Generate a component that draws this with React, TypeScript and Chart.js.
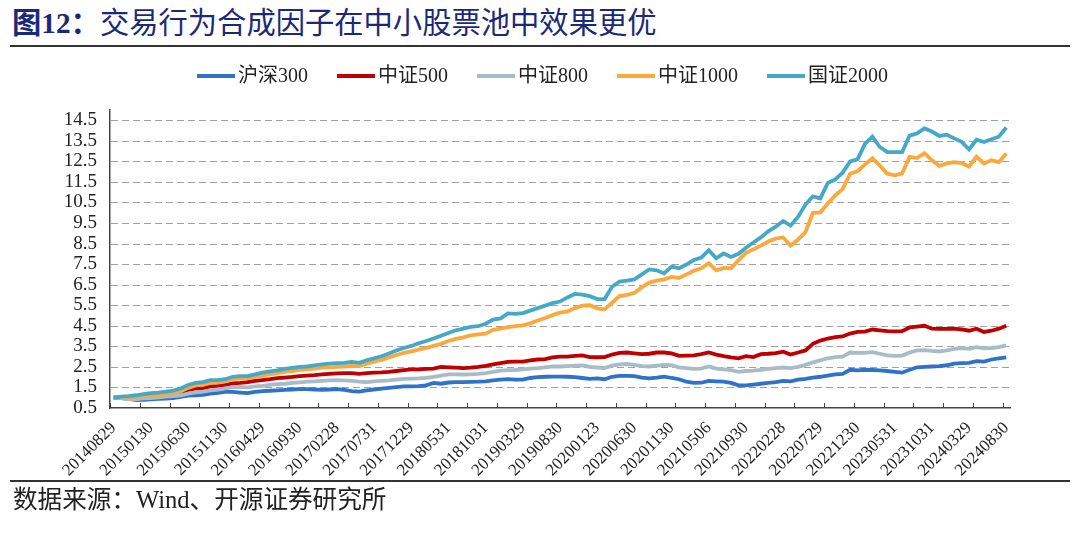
import React, { useEffect, useRef } from 'react';
import { Chart, registerables } from 'chart.js';

Chart.register(...registerables);

// ---------- data ----------
const xTickLabels = [
  '20140829', '20150130', '20150630', '20151130', '20160429', '20160930', '20170228',
  '20170731', '20171229', '20180531', '20181031', '20190329', '20190830', '20200123',
  '20200630', '20201130', '20210506', '20210930', '20220228', '20220729', '20221230',
  '20230531', '20231031', '20240329', '20240830',
];

const yTickValues = [0.5, 1.5, 2.5, 3.5, 4.5, 5.5, 6.5, 7.5, 8.5, 9.5, 10.5, 11.5, 12.5, 13.5, 14.5];

const seriesNames = ['沪深300', '中证500', '中证800', '中证1000', '国证2000'];
const seriesColors = ['#2F72C9', '#C00000', '#A7BBC9', '#FBA83C', '#44A9C8'];

const hs300 = [
  1.0, 0.98, 0.95, 0.88, 0.9, 0.92, 0.94, 0.96, 0.98, 1.04, 1.1, 1.12, 1.14, 1.2, 1.24, 1.28, 1.28, 1.25, 1.22, 1.28,
  1.32, 1.34, 1.36, 1.38, 1.4, 1.42, 1.42, 1.4, 1.38, 1.4, 1.42, 1.38, 1.32, 1.3,
  1.36, 1.4, 1.44, 1.48, 1.52, 1.55, 1.55, 1.56, 1.6, 1.72, 1.68, 1.74, 1.76, 1.76, 1.77, 1.78, 1.8, 1.84, 1.88, 1.9,
  1.88, 1.88, 1.96, 2.0, 2.02, 2.03, 2.03, 2.02, 2.0, 1.96, 1.92, 1.94, 1.9, 2.02,
  2.06, 2.06, 2.05, 1.98, 1.94, 1.98, 2.03, 1.96, 1.9, 1.78, 1.72, 1.73, 1.82, 1.8, 1.78, 1.72, 1.6, 1.6, 1.64, 1.68,
  1.72, 1.76, 1.82, 1.8, 1.88, 1.92, 1.98, 2.02, 2.08, 2.14, 2.16, 2.36, 2.33,
  2.36, 2.35, 2.33, 2.3, 2.26, 2.22, 2.36, 2.48, 2.5, 2.52, 2.54, 2.58, 2.66, 2.68, 2.7, 2.78, 2.76, 2.86, 2.92, 2.96,
];

const csi500 = [
  1.0, 1.0, 0.98, 1.02, 1.06, 1.08, 1.1, 1.14, 1.18, 1.25, 1.38, 1.44, 1.46, 1.55, 1.58, 1.62, 1.7, 1.72, 1.76, 1.82,
  1.86, 1.9, 1.95, 1.98, 2.01, 2.05, 2.08, 2.1, 2.14, 2.16, 2.18, 2.2, 2.2, 2.16,
  2.2, 2.22, 2.23, 2.26, 2.3, 2.34, 2.38, 2.38, 2.4, 2.42, 2.5, 2.48, 2.46, 2.44, 2.46, 2.5, 2.55, 2.62, 2.68, 2.74,
  2.76, 2.76, 2.82, 2.86, 2.88, 2.96, 3.0, 3.0, 3.04, 3.06, 2.98, 2.97, 2.98, 3.1,
  3.18, 3.2, 3.16, 3.12, 3.14, 3.2, 3.2, 3.16, 3.04, 3.05, 3.06, 3.12, 3.2, 3.1, 3.02, 2.96, 2.92, 3.02, 2.98, 3.12,
  3.14, 3.17, 3.24, 3.1, 3.2, 3.3, 3.62, 3.78, 3.88, 3.95, 3.98, 4.12, 4.2,
  4.22, 4.32, 4.28, 4.24, 4.23, 4.24, 4.42, 4.46, 4.5, 4.36, 4.35, 4.35, 4.36, 4.32, 4.26, 4.36, 4.2, 4.26, 4.36, 4.5,
];

const csi800 = [
  1.0, 0.98, 0.93, 0.92, 0.97, 0.98, 1.02, 1.06, 1.08, 1.12, 1.2, 1.26, 1.3, 1.36, 1.4, 1.46, 1.52, 1.52, 1.5, 1.55,
  1.58, 1.62, 1.66, 1.68, 1.72, 1.75, 1.78, 1.8, 1.82, 1.84, 1.85, 1.84, 1.82, 1.78,
  1.76, 1.8, 1.82, 1.84, 1.88, 1.92, 1.93, 1.94, 1.97, 2.02, 2.08, 2.14, 2.14, 2.13, 2.14, 2.16, 2.2, 2.26, 2.32, 2.34,
  2.35, 2.38, 2.42, 2.44, 2.48, 2.52, 2.52, 2.54, 2.56, 2.57, 2.5, 2.47, 2.44, 2.56,
  2.62, 2.64, 2.6, 2.54, 2.52, 2.56, 2.6, 2.58, 2.48, 2.44, 2.4, 2.42, 2.52, 2.42, 2.38, 2.34, 2.26, 2.3, 2.32, 2.36,
  2.4, 2.44, 2.47, 2.44, 2.5, 2.6, 2.72, 2.82, 2.92, 2.98, 3.0, 3.2, 3.18,
  3.18, 3.22, 3.14, 3.06, 3.04, 3.05, 3.2, 3.3, 3.32, 3.28, 3.25, 3.3, 3.38, 3.42, 3.38, 3.46, 3.4, 3.42, 3.46, 3.55,
];

const csi1000 = [
  1.0, 1.02, 1.03, 1.06, 1.08, 1.11, 1.14, 1.16, 1.22, 1.3, 1.48, 1.6, 1.62, 1.72, 1.74, 1.8, 1.9, 1.93, 1.95, 2.02,
  2.08, 2.14, 2.2, 2.26, 2.3, 2.35, 2.38, 2.42, 2.46, 2.48, 2.5, 2.52, 2.55, 2.54,
  2.66, 2.76, 2.84, 2.96, 3.08, 3.18, 3.26, 3.34, 3.42, 3.52, 3.62, 3.76, 3.86, 3.94, 4.04, 4.08, 4.12, 4.3, 4.36, 4.44,
  4.48, 4.52, 4.62, 4.76, 4.88, 5.02, 5.14, 5.2, 5.36, 5.48, 5.5, 5.35, 5.3, 5.62,
  5.95, 6.0, 6.1, 6.38, 6.6, 6.7, 6.76, 6.88, 6.82, 7.0, 7.18, 7.3, 7.55, 7.2, 7.32, 7.3, 7.7, 8.05, 8.22, 8.4,
  8.6, 8.74, 8.8, 8.4, 8.7, 9.05, 10.0, 10.02, 10.45, 10.85, 11.15, 11.9, 12.02,
  12.35, 12.65, 12.3, 11.9, 11.82, 11.92, 12.72, 12.66, 12.9, 12.55, 12.28, 12.4, 12.46, 12.42, 12.25, 12.72, 12.4, 12.55, 12.46, 12.88,
];

const gz2000 = [
  1.0, 1.05, 1.08, 1.12, 1.17, 1.22, 1.25, 1.3, 1.35, 1.45, 1.62, 1.72, 1.76, 1.86, 1.86, 1.9, 2.02, 2.05, 2.05, 2.14,
  2.22, 2.28, 2.33, 2.4, 2.45, 2.5, 2.52, 2.57, 2.62, 2.66, 2.68, 2.7, 2.74, 2.7,
  2.82, 2.92, 3.02, 3.15, 3.3, 3.42, 3.52, 3.65, 3.76, 3.88, 4.02, 4.15, 4.28, 4.36, 4.45, 4.48, 4.6, 4.8, 4.86, 5.1,
  5.08, 5.12, 5.24, 5.36, 5.48, 5.6, 5.68, 5.88, 6.05, 6.02, 5.94, 5.8, 5.8, 6.4,
  6.65, 6.7, 6.76, 7.0, 7.24, 7.2, 7.05, 7.38, 7.3, 7.48, 7.7, 7.82, 8.18, 7.78, 8.02, 7.85, 8.0, 8.3, 8.55, 8.8,
  9.1, 9.32, 9.6, 9.38, 9.8, 10.4, 10.8, 10.7, 11.45, 11.62, 11.95, 12.5, 12.6,
  13.35, 13.7, 13.2, 12.95, 12.95, 12.95, 13.75, 13.86, 14.1, 13.95, 13.74, 13.8, 13.62, 13.45, 13.08, 13.55, 13.44, 13.58, 13.7, 14.15,
];

const seriesValues = [hs300, csi500, csi800, csi1000, gz2000];

// monthly categories 2014-08 .. 2024-08
const categories: string[] = [];
for (let i = 0; i < hs300.length; i++) {
  const m = 7 + i;
  const y = 2014 + Math.floor(m / 12);
  const mo = (m % 12) + 1;
  categories.push(`${y}${mo < 10 ? '0' : ''}${mo}`);
}

const SERIF = '"Liberation Serif", "Times New Roman", "Noto Sans CJK SC", serif';

export default function App() {
  const canvasRef = useRef<HTMLCanvasElement | null>(null);

  useEffect(() => {
    document.body.style.margin = '0';
    const canvas = canvasRef.current;
    if (!canvas) return;

    const gridPlugin = {
      id: 'dashedGrid',
      beforeDatasetsDraw(chart: any) {
        const ys = chart.scales.y;
        const { left, right } = chart.chartArea;
        const c = chart.ctx;
        c.save();
        c.strokeStyle = '#A0A0A0';
        c.lineWidth = 1;
        c.setLineDash([7, 4]);
        yTickValues.forEach((v) => {
          if (v === yTickValues[0]) return;
          const y = Math.round(ys.getPixelForValue(v)) + 0.5;
          c.beginPath();
          c.moveTo(left + 1, y);
          c.lineTo(right, y);
          c.stroke();
        });
        c.restore();
      },
    };

    const xTickPlugin = {
      id: 'xInnerTicks',
      afterDraw(chart: any) {
        const xs = chart.scales.x;
        const c = chart.ctx;
        const half = (xs.getPixelForValue(1) - xs.getPixelForValue(0)) / 2;
        const bottom = chart.chartArea.bottom;
        c.save();
        c.strokeStyle = '#444';
        c.lineWidth = 1;
        for (let i = 0; i <= categories.length - 1; i += 4) {
          const x = Math.round(xs.getPixelForValue(i) - half) + 0.5;
          c.beginPath();
          c.moveTo(x, bottom);
          c.lineTo(x, bottom - 5);
          c.stroke();
        }
        c.restore();
      },
    };

    const legendPlugin = {
      id: 'customLegend',
      afterDraw(chart: any) {
        const c = chart.ctx;
        c.save();
        c.font = `20px ${SERIF}`;
        c.textBaseline = 'middle';
        let x = 197;
        const y = 76;
        chart.data.datasets.forEach((ds: any) => {
          c.strokeStyle = ds.borderColor;
          c.lineWidth = 4;
          c.beginPath();
          c.moveTo(x, y);
          c.lineTo(x + 38, y);
          c.stroke();
          c.fillStyle = '#222';
          c.fillText(ds.label, x + 41, y + 1);
          x += 41 + c.measureText(ds.label).width + 29;
        });
        c.restore();
      },
    };

    const chart = new Chart(canvas, {
      type: 'line',
      data: {
        labels: categories,
        datasets: seriesNames.map((name, k) => ({
          label: name,
          data: seriesValues[k],
          borderColor: seriesColors[k],
          backgroundColor: seriesColors[k],
          borderWidth: 3.8,
          pointRadius: 0,
          tension: 0,
          order: seriesNames.length - 1 - k,
        })),
      },
      options: {
        responsive: false,
        animation: false,
        layout: { padding: { left: 0, right: 70, top: 110, bottom: 0 } },
        plugins: {
          legend: { display: false },
          tooltip: { enabled: false },
          title: { display: false },
        },
        scales: {
          x: {
            type: 'category',
            offset: true,
            afterFit: (s: any) => {
              s.height = 126;
            },
            grid: { display: false, drawTicks: false },
            border: { display: true, color: '#444', width: 1.5 },
            ticks: {
              autoSkip: false,
              maxRotation: 45,
              minRotation: 45,
              padding: 10,
              color: '#222',
              font: { family: SERIF, size: 17 },
              callback: (_v: any, i: number) => (i % 5 === 0 ? xTickLabels[i / 5] : null),
            },
          },
          y: {
            type: 'linear',
            min: 0.5,
            max: 15,
            afterFit: (s: any) => {
              s.width = 110;
            },
            afterBuildTicks: (s: any) => {
              s.ticks = yTickValues.map((v) => ({ value: v }));
            },
            grid: { display: false, drawTicks: false },
            border: { display: true, color: '#444', width: 1.5 },
            ticks: {
              autoSkip: false,
              padding: 13,
              color: '#222',
              font: { family: SERIF, size: 19 },
              callback: (v: any) => Number(v).toFixed(1),
            },
          },
        },
      },
      plugins: [gridPlugin, xTickPlugin, legendPlugin],
    });

    return () => chart.destroy();
  }, []);

  return (
    <div style={{ position: 'fixed', left: 0, top: 0, width: 1080, height: 534, background: '#fff', overflow: 'hidden' }}>
      <div
        style={{
          position: 'absolute',
          left: 12,
          top: 9,
          fontSize: 29.3,
          lineHeight: '29px',
          color: '#1B2A78',
          fontFamily: SERIF,
          whiteSpace: 'nowrap',
        }}
      >
        <span style={{ fontWeight: 'bold' }}>图12：</span>交易行为合成因子在中小股票池中效果更优
      </div>
      <div style={{ position: 'absolute', left: 10, top: 45, width: 1060, height: 2, background: '#333' }} />
      <canvas ref={canvasRef} width={1080} height={534} style={{ position: 'absolute', left: 0, top: 0 }} />
      <div style={{ position: 'absolute', left: 10, top: 480, width: 1060, height: 2, background: '#333' }} />
      <div
        style={{
          position: 'absolute',
          left: 13,
          top: 488,
          fontSize: 24.6,
          lineHeight: '24px',
          color: '#222',
          fontFamily: SERIF,
          whiteSpace: 'nowrap',
        }}
      >
        数据来源：Wind、开源证券研究所
      </div>
    </div>
  );
}
